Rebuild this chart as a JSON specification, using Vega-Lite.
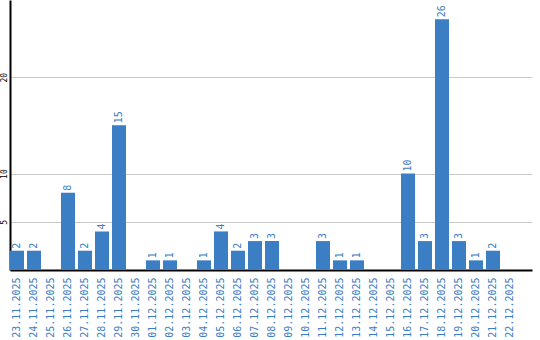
{
  "$schema": "https://vega.github.io/schema/vega-lite/v6.json",
  "width": 522,
  "height": 270,
  "autosize": "none",
  "padding": {"left": 10, "top": 0, "right": 8, "bottom": 70},
  "background": "white",
  "config": {"view": {"stroke": null}, "font": "DejaVu Sans Mono"},
  "data": {"values": [
    {"d": "23.11.2025", "v": 2}, {"d": "24.11.2025", "v": 2}, {"d": "25.11.2025", "v": 0},
    {"d": "26.11.2025", "v": 8}, {"d": "27.11.2025", "v": 2}, {"d": "28.11.2025", "v": 4},
    {"d": "29.11.2025", "v": 15}, {"d": "30.11.2025", "v": 0}, {"d": "01.12.2025", "v": 1},
    {"d": "02.12.2025", "v": 1}, {"d": "03.12.2025", "v": 0}, {"d": "04.12.2025", "v": 1},
    {"d": "05.12.2025", "v": 4}, {"d": "06.12.2025", "v": 2}, {"d": "07.12.2025", "v": 3},
    {"d": "08.12.2025", "v": 3}, {"d": "09.12.2025", "v": 0}, {"d": "10.12.2025", "v": 0},
    {"d": "11.12.2025", "v": 3}, {"d": "12.12.2025", "v": 1}, {"d": "13.12.2025", "v": 1},
    {"d": "14.12.2025", "v": 0}, {"d": "15.12.2025", "v": 0}, {"d": "16.12.2025", "v": 10},
    {"d": "17.12.2025", "v": 3}, {"d": "18.12.2025", "v": 26}, {"d": "19.12.2025", "v": 3},
    {"d": "20.12.2025", "v": 1}, {"d": "21.12.2025", "v": 2}, {"d": "22.12.2025", "v": 0}
  ]},
  "encoding": {
    "x": {
      "field": "d", "type": "ordinal", "sort": null,
      "scale": {"paddingInner": 0.176, "paddingOuter": 0.441, "align": 0},
      "axis": {
        "title": null, "labelAngle": -90, "labelAlign": "right", "labelBaseline": "middle",
        "labelFont": "DejaVu Sans Mono", "labelFontSize": 10, "labelColor": "#3a7dc4",
        "labelPadding": 7, "ticks": false, "domainColor": "#000000", "domainWidth": 2, "grid": false
      }
    },
    "y": {
      "field": "v", "type": "quantitative",
      "scale": {"domain": [0, 28], "nice": false},
      "axis": {
        "title": null, "values": [5, 10, 20], "labelAngle": -90,
        "labelFont": "DejaVu Sans Mono", "labelFontSize": 8, "labelColor": "#000000",
        "labelPadding": 2, "ticks": false, "domainColor": "#000000", "domainWidth": 2,
        "grid": true, "gridColor": "#c8c8c8", "gridWidth": 1
      }
    }
  },
  "layer": [
    {"mark": {"type": "bar", "color": "#3b7ec4"}},
    {
      "transform": [{"filter": "datum.v > 0"}],
      "mark": {"type": "text", "angle": 270, "align": "left", "baseline": "middle", "dx": 2,
               "font": "DejaVu Sans Mono", "fontSize": 10, "color": "#3a7dc4"},
      "encoding": {"text": {"field": "v", "type": "quantitative"}}
    }
  ]
}
